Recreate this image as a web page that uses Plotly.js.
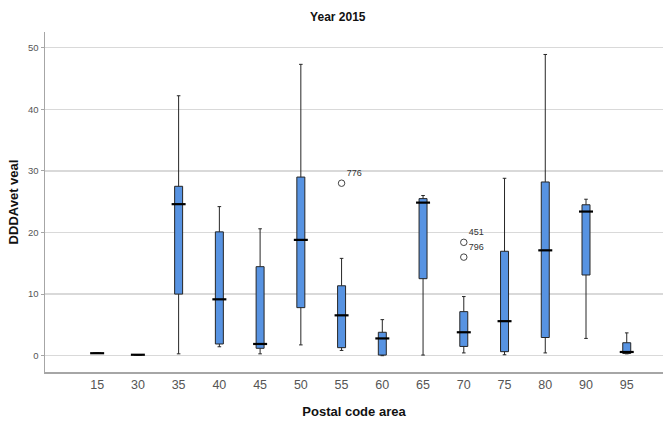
<!DOCTYPE html>
<html>
<head>
<meta charset="utf-8">
<script src="https://cdn.plot.ly/plotly-3.0.1.min.js"></script>
<style>
  html, body { margin: 0; padding: 0; background: #ffffff; }
  #chart { width: 665px; height: 427px; }
</style>
</head>
<body>
<div id="chart"></div>
<script>
// Postal code areas on the x axis
const areas = ['15', '30', '35', '40', '45', '50', '55', '60', '65', '70', '75', '80', '90', '95'];

// Box statistics of DDDAvet for veal, year 2015
const lowerWhisker = [0.4, 0.15, 0.3, 1.45, 0.3, 1.75, 0.85, 0.0, 0.1, 0.45, 0.15, 0.45, 2.8, 0.3];
const quartile1    = [0.4, 0.15, 10.0, 1.9, 1.2, 7.8, 1.3, 0.1, 12.5, 1.5, 0.65, 2.95, 13.1, 0.35];
const medians      = [0.4, 0.15, 24.6, 9.15, 1.9, 18.8, 6.55, 2.8, 24.85, 3.8, 5.6, 17.1, 23.4, 0.6];
const quartile3    = [0.4, 0.15, 27.5, 20.1, 14.45, 29.0, 11.35, 3.8, 25.5, 7.15, 16.95, 28.2, 24.5, 2.1];
const upperWhisker = [0.4, 0.15, 42.2, 24.2, 20.6, 47.3, 15.8, 5.85, 26.0, 9.6, 28.8, 48.9, 25.4, 3.7];

// Outlying observations with their case numbers
const outlierAreas  = ['55', '70', '70'];
const outlierValues = [28.0, 18.4, 16.0];
const outlierCases  = ['776', '451', '796'];

const boxes = {
  type: 'box',
  x: areas,
  q1: quartile1,
  median: medians,
  q3: quartile3,
  lowerfence: lowerWhisker,
  upperfence: upperWhisker,
  fillcolor: '#5793e2',
  line: { color: '#262626', width: 1 },
  whiskerwidth: 0.45,
  boxpoints: false,
  hoverinfo: 'skip',
  showlegend: false
};

// Heavy median bars drawn on top of each box
const medianBars = {
  type: 'scatter',
  mode: 'markers',
  x: areas,
  y: medians,
  marker: {
    symbol: 'line-ew',
    size: 10,
    color: '#000000',
    line: { color: '#000000', width: 2.2 }
  },
  hoverinfo: 'skip',
  showlegend: false
};

const outliers = {
  type: 'scatter',
  mode: 'markers+text',
  x: outlierAreas,
  y: outlierValues,
  text: outlierCases,
  textposition: 'top right',
  textfont: { family: 'Liberation Sans, Arial, sans-serif', size: 9, color: '#333333' },
  marker: {
    symbol: 'circle-open',
    size: 6.5,
    color: '#444444',
    line: { color: '#444444', width: 1 }
  },
  cliponaxis: false,
  hoverinfo: 'skip',
  showlegend: false
};

const layout = {
  width: 665,
  height: 427,
  paper_bgcolor: '#ffffff',
  plot_bgcolor: '#ffffff',
  margin: { l: 45, r: 2, t: 32, b: 55 },
  boxgap: 0.72,
  font: { family: 'Liberation Sans, Arial, sans-serif', color: '#333333' },
  title: {
    text: '<b>Year 2015</b>',
    font: { family: 'Liberation Sans, Arial, sans-serif', size: 12, color: '#111111' },
    x: 0.508, xref: 'container', xanchor: 'center',
    y: 0.96, yref: 'container', yanchor: 'middle'
  },
  xaxis: {
    type: 'category',
    categoryorder: 'array',
    categoryarray: areas,
    range: [-1.28, 13.89],
    showgrid: false,
    zeroline: false,
    showline: true,
    linecolor: '#a6a6a6',
    linewidth: 1.5,
    ticks: '',
    tickfont: { size: 12.5, color: '#555555' },
    title: {
      text: '<b>Postal code area</b>',
      font: { size: 13, color: '#111111' },
      standoff: 16
    }
  },
  yaxis: {
    range: [-2.65, 52.55],
    tickvals: [0, 10, 20, 30, 40, 50],
    showgrid: true,
    gridcolor: '#d9d9d9',
    gridwidth: 1.5,
    zeroline: false,
    showline: true,
    linecolor: '#a6a6a6',
    linewidth: 1.5,
    ticks: 'outside',
    ticklen: 3,
    tickcolor: '#a6a6a6',
    tickfont: { size: 9.5, color: '#555555' },
    title: {
      text: '<b>DDDAvet veal</b>',
      font: { size: 13, color: '#111111' },
      standoff: 6
    }
  }
};

Plotly.newPlot('chart', [boxes, medianBars, outliers], layout, { staticPlot: true, displayModeBar: false });
</script>
</body>
</html>
